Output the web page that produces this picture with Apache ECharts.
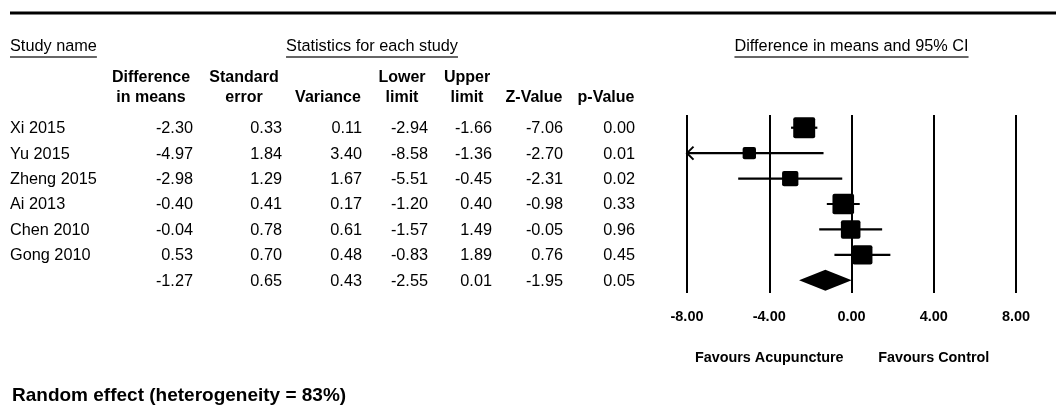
<!DOCTYPE html>
<html>
<head>
<meta charset="utf-8">
<script src="https://cdn.jsdelivr.net/npm/echarts@6/dist/echarts.min.js"></script>
<style>
  html, body { margin: 0; padding: 0; background: #fff; }
  #chart { width: 1056px; height: 405px; }
</style>
</head>
<body>
<div id="chart"></div>
<script>
// Study-level statistics (difference in means, random-effects meta-analysis)
const studies      = ['Xi 2015', 'Yu 2015', 'Zheng 2015', 'Ai 2013', 'Chen 2010', 'Gong 2010'];
const diffMeans    = [-2.30, -4.97, -2.98, -0.40, -0.04, 0.53];
const stdError     = [0.33, 1.84, 1.29, 0.41, 0.78, 0.70];
const varianceVals = [0.11, 3.40, 1.67, 0.17, 0.61, 0.48];
const lowerLimit   = [-2.94, -8.58, -5.51, -1.20, -1.57, -0.83];
const upperLimit   = [-1.66, -1.36, -0.45, 0.40, 1.49, 1.89];
const zValues      = [-7.06, -2.70, -2.31, -0.98, -0.05, 0.76];
const pValues      = [0.00, 0.01, 0.02, 0.33, 0.96, 0.45];

// Pooled row: diff, SE, variance, lower, upper, Z, p
const pooledStats  = [-1.27, 0.65, 0.43, -2.55, 0.01, -1.95, 0.05];

const axisTicks    = [-8, -4, 0, 4, 8];
const heterogeneityPct = 83;

const FONT = "'Liberation Sans', Arial, Helvetica, sans-serif";
const rowKeys = studies.concat(['Pooled']);

// DerSimonian-Laird tau^2 for the random-effects weights (box sizes)
const wFixed = varianceVals.map(v => 1 / v);
const sumW = wFixed.reduce((a, b) => a + b, 0);
const sumW2 = wFixed.reduce((a, b) => a + b * b, 0);
const meanFixed = wFixed.reduce((a, w, i) => a + w * diffMeans[i], 0) / sumW;
const Q = wFixed.reduce((a, w, i) => a + w * Math.pow(diffMeans[i] - meanFixed, 2), 0);
const tau2 = Math.max(0, (Q - (studies.length - 1)) / (sumW - sumW2 / sumW));
const wRandom = varianceVals.map(v => 1 / (v + tau2));

const BOX_SCALE = 30.5;
const forestData = studies.map((s, i) => [
  diffMeans[i], i, lowerLimit[i], upperLimit[i], BOX_SCALE * Math.sqrt(wRandom[i]), 0
]);
forestData.push([pooledStats[0], studies.length, pooledStats[3], pooledStats[4], 0, 1]);

const xMin = axisTicks[0], xMax = axisTicks[axisTicks.length - 1];

function renderForest(params, api) {
  const est = api.value(0), row = api.value(1);
  const lo = api.value(2), hi = api.value(3);
  const size = api.value(4), pooled = api.value(5);
  const c = api.coord([est, row]);
  const y = c[1];
  const children = [];
  if (pooled) {
    const l = api.coord([lo, row])[0], r = api.coord([hi, row])[0];
    const h = 10.5;
    children.push({
      type: 'polygon',
      shape: { points: [[l, y], [c[0], y - h], [r, y], [c[0], y + h]] },
      style: { fill: '#000' }
    });
    return { type: 'group', children };
  }
  const clippedLo = Math.max(lo, xMin), clippedHi = Math.min(hi, xMax);
  const l = api.coord([clippedLo, row])[0], r = api.coord([clippedHi, row])[0];
  children.push({
    type: 'line',
    shape: { x1: l, y1: y, x2: r, y2: y },
    style: { stroke: '#000', lineWidth: 2.2 }
  });
  if (lo < xMin) {
    children.push({
      type: 'polyline',
      shape: { points: [[l + 6.5, y - 6.5], [l, y], [l + 6.5, y + 6.5]] },
      style: { stroke: '#000', lineWidth: 2, fill: null }
    });
  }
  children.push({
    type: 'rect',
    shape: { x: c[0] - size / 2, y: y - size / 2 + 0.5, width: size, height: size - 1, r: 2 },
    style: { fill: '#000' }
  });
  return { type: 'group', children };
}

const chart = echarts.init(document.getElementById('chart'), null, { renderer: 'canvas' });

chart.setOption({
  animation: false,
  backgroundColor: '#fff',
  textStyle: { fontFamily: FONT },
  grid: { left: 687, right: 40, top: 115, height: 178 },
  xAxis: {
    type: 'value',
    min: xMin,
    max: xMax,
    interval: axisTicks[1] - axisTicks[0],
    axisLine: { show: false },
    axisTick: { show: false },
    splitLine: { show: true, lineStyle: { color: '#000', width: 2 } },
    axisLabel: {
      margin: 16,
      color: '#000',
      fontFamily: FONT,
      fontWeight: 'bold',
      fontSize: 14.5,
      formatter: v => v.toFixed(2)
    }
  },
  yAxis: {
    type: 'category',
    data: rowKeys,
    inverse: true,
    show: false
  },
  series: [{
    type: 'custom',
    renderItem: renderForest,
    encode: { x: 0, y: 1 },
    data: forestData,
    clip: false,
    z: 5
  }]
});

// Text table and headers, aligned with the category rows of the plot
const measureCtx = document.createElement('canvas').getContext('2d');
function textWidth(text, font) { measureCtx.font = font; return measureCtx.measureText(text).width; }

const regFont = '16.3px ' + FONT;
const boldFont = 'bold 16px ' + FONT;
const colRight = [193, 282, 362, 428, 492, 563, 635];
const colCenter = [151, 244, 328, 402, 467, 534, 606];
const headerTop = ['Difference', 'Standard', '', 'Lower', 'Upper', '', ''];
const headerBottom = ['in means', 'error', 'Variance', 'limit', 'limit', 'Z-Value', 'p-Value'];

const graphics = [];
function addText(text, x, y, font, align) {
  graphics.push({
    type: 'text',
    style: {
      text, x, y, font, fill: '#000',
      align: align, verticalAlign: 'middle',
      textAlign: align, textVerticalAlign: 'middle'
    },
    silent: true
  });
}
function addUnderlined(text, x, y, align) {
  addText(text, x, y, regFont, align);
  const w = textWidth(text, regFont);
  const x0 = align === 'center' ? x - w / 2 : x;
  graphics.push({
    type: 'line',
    shape: { x1: x0, y1: y + 10, x2: x0 + w, y2: y + 10 },
    style: { stroke: '#333', lineWidth: 1.6 },
    silent: true
  });
}

// Top rule
graphics.push({
  type: 'line',
  shape: { x1: 10, y1: 13, x2: 1056, y2: 13 },
  style: { stroke: '#000', lineWidth: 3 },
  silent: true
});

const plotCenter = chart.convertToPixel({ xAxisIndex: 0 }, 0);
addUnderlined('Study name', 10, 47, 'left');
addUnderlined('Statistics for each study', 372, 47, 'center');
addUnderlined('Difference in means and 95% CI', plotCenter, 47, 'center');

headerTop.forEach((t, j) => { if (t) addText(t, colCenter[j], 78, boldFont, 'center'); });
headerBottom.forEach((t, j) => addText(t, colCenter[j], 97.5, boldFont, 'center'));

studies.forEach((name, i) => {
  const y = chart.convertToPixel({ yAxisIndex: 0 }, rowKeys[i]) + 1;
  addText(name, 10, y, regFont, 'left');
  const vals = [diffMeans[i], stdError[i], varianceVals[i], lowerLimit[i], upperLimit[i], zValues[i], pValues[i]];
  vals.forEach((v, j) => addText(v.toFixed(2), colRight[j], y, regFont, 'right'));
});
{
  const y = chart.convertToPixel({ yAxisIndex: 0 }, rowKeys[studies.length]) + 1;
  pooledStats.forEach((v, j) => addText(v.toFixed(2), colRight[j], y, regFont, 'right'));
}

// Direction labels under the axis
const favFont = 'bold 14.4px ' + FONT;
addText('Favours Acupuncture', chart.convertToPixel({ xAxisIndex: 0 }, -4), 358, favFont, 'center');
addText('Favours Control', chart.convertToPixel({ xAxisIndex: 0 }, 4), 358, favFont, 'center');

addText('Random effect (heterogeneity = ' + heterogeneityPct + '%)', 12, 396, 'bold 19px ' + FONT, 'left');

chart.setOption({ graphic: { elements: graphics } });
</script>
</body>
</html>
